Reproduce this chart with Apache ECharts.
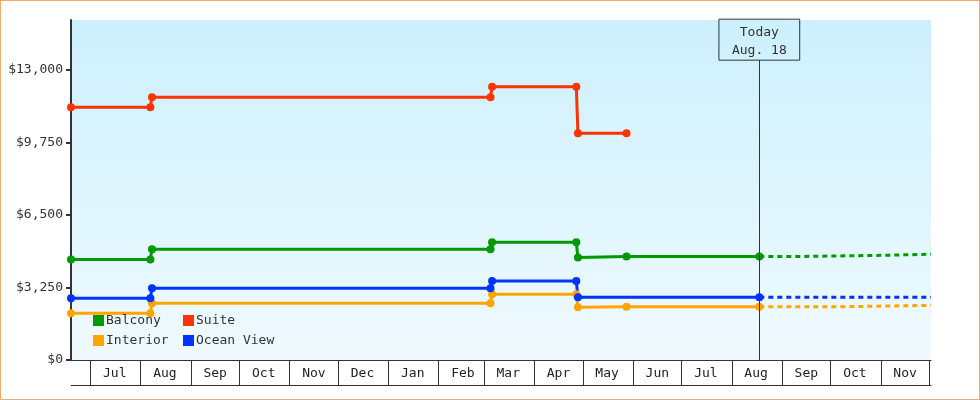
<!DOCTYPE html>
<html>
<head>
<meta charset="utf-8">
<script src="https://cdn.jsdelivr.net/npm/echarts@6/dist/echarts.min.js"></script>
<style>
  html, body { margin: 0; padding: 0; background: #fff; }
  #chart { position: absolute; left: 0; top: 0; width: 980px; height: 400px; }
  #frame {
    position: absolute; left: 0; top: 0; width: 980px; height: 400px;
    box-sizing: border-box; pointer-events: none;
    border: 1px solid; border-color: #eeaa5e #dcb287 #dcb287 #eeaa5e;
  }
</style>
</head>
<body>
<div id="chart"></div>
<div id="frame"></div>
<script>
var startDay = '2016-06-19';
var endDay = '2017-12-02';
var today = '2017-08-18';
var months = ['Jan', 'Feb', 'Mar', 'Apr', 'May', 'Jun', 'Jul', 'Aug', 'Sep', 'Oct', 'Nov', 'Dec'];
var yTicks = [0, 3250, 6500, 9750, 13000];
var yMax = 15240;

// prix observés
var balcony = [
  ['2016-06-19', 4510], ['2016-08-07', 4510], ['2016-08-08', 4960],
  ['2017-03-05', 4960], ['2017-03-06', 5280], ['2017-04-27', 5280],
  ['2017-04-28', 4590], ['2017-05-28', 4640], ['2017-08-18', 4640]
];
var suite = [
  ['2016-06-19', 11330], ['2016-08-07', 11330], ['2016-08-08', 11780],
  ['2017-03-05', 11780], ['2017-03-06', 12250], ['2017-04-27', 12250],
  ['2017-04-28', 10160], ['2017-05-28', 10160]
];
var interior = [
  ['2016-06-19', 2090], ['2016-08-07', 2090], ['2016-08-08', 2540],
  ['2017-03-05', 2540], ['2017-03-06', 2945], ['2017-04-27', 2945],
  ['2017-04-28', 2360], ['2017-05-28', 2390], ['2017-08-18', 2390]
];
var oceanView = [
  ['2016-06-19', 2770], ['2016-08-07', 2770], ['2016-08-08', 3215],
  ['2017-03-05', 3215], ['2017-03-06', 3540], ['2017-04-27', 3540],
  ['2017-04-28', 2810], ['2017-08-18', 2810]
];
// prévisions (pointillés)
var balconyForecast = [
  ['2017-08-18', 4640], ['2017-09-12', 4640], ['2017-09-13', 4695],
  ['2017-11-06', 4695], ['2017-11-07', 4745], ['2017-12-02', 4745]
];
var interiorForecast = [
  ['2017-08-18', 2390], ['2017-10-10', 2390], ['2017-10-11', 2450], ['2017-12-02', 2450]
];
var oceanViewForecast = [['2017-08-18', 2810], ['2017-12-02', 2810]];

var colors = { Balcony: '#009900', Suite: '#ff3300', Interior: '#ffa500', 'Ocean View': '#0033ff' };
var mono = 'DejaVu Sans Mono';

// une catégorie par jour
function dayList(a, b) {
  var out = [];
  var t = Date.parse(a + 'T00:00:00Z');
  var end = Date.parse(b + 'T00:00:00Z');
  for (; t <= end; t += 86400000) out.push(new Date(t).toISOString().slice(0, 10));
  return out;
}
var days = dayList(startDay, endDay);

function solid(name, data) {
  return {
    name: name, type: 'line', data: data, xAxisIndex: 0,
    symbol: 'circle', symbolSize: 8, showSymbol: true, showAllSymbol: true,
    lineStyle: { width: 3, color: colors[name] },
    itemStyle: { color: colors[name] }
  };
}
function dashed(name, data) {
  return {
    name: name, type: 'line', data: data, xAxisIndex: 0,
    showSymbol: false, symbol: 'none',
    lineStyle: { width: 3, color: colors[name], type: [5, 4] },
    itemStyle: { color: colors[name] }
  };
}

var ocean = solid('Ocean View', oceanView);
ocean.markLine = {
  silent: true, symbol: 'none', animation: false,
  lineStyle: { color: '#333', width: 1, type: 'solid' },
  label: {
    show: true, position: 'end', distance: 0,
    formatter: 'Today\nAug. 18',
    color: '#333', fontFamily: mono, fontSize: 13, lineHeight: 18,
    borderColor: '#333', borderWidth: 1, padding: [4, 13, 1, 13]
  },
  data: [[{ coord: [today, 0] }, { coord: [today, 13440] }]]
};

var legendBase = {
  orient: 'vertical', top: 314, padding: 0, icon: 'rect',
  itemWidth: 11, itemHeight: 11, itemGap: 7,
  textStyle: { fontFamily: mono, fontSize: 13, color: '#333', lineHeight: 11, padding: [0, 0, 0, -3] }
};

var chart = echarts.init(document.getElementById('chart'));
chart.setOption({
  animation: false,
  grid: {
    left: 71, right: 49, top: 20, bottom: 40, show: true, borderWidth: 0,
    backgroundColor: new echarts.graphic.LinearGradient(0, 0, 0, 1, [
      { offset: 0, color: '#ccf0fd' }, { offset: 1, color: '#f0faff' }
    ])
  },
  legend: [
    Object.assign({}, legendBase, { left: 93, data: ['Balcony', 'Interior'] }),
    Object.assign({}, legendBase, { left: 183, data: ['Suite', 'Ocean View'] })
  ],
  xAxis: [{
    type: 'category', data: days, boundaryGap: false,
    axisLine: { lineStyle: { color: '#333', width: 1 } },
    axisTick: {
      length: 25, lineStyle: { color: '#333', width: 1 },
      interval: function (i, v) { return v.slice(8) === '01'; }
    },
    axisLabel: {
      interval: function (i, v) { return v.slice(8) === '16'; },
      formatter: function (v) { return months[+v.slice(5, 7) - 1]; },
      color: '#222', fontFamily: mono, fontSize: 13, margin: 7
    },
    splitLine: { show: false }
  }, {
    type: 'category', data: days, boundaryGap: false, position: 'bottom', offset: 25,
    axisLine: { lineStyle: { color: '#333', width: 1 } },
    axisTick: { show: false }, axisLabel: { show: false }, splitLine: { show: false }
  }],
  yAxis: {
    type: 'value', min: 0, max: yMax,
    axisLine: { show: true, lineStyle: { color: '#333', width: 2 } },
    axisTick: { show: true, length: 5, customValues: yTicks, lineStyle: { color: '#333', width: 2 } },
    axisLabel: {
      customValues: yTicks, margin: 8, color: '#333', fontFamily: mono, fontSize: 13,
      formatter: function (v) { return '$' + v.toLocaleString('en-US'); }
    },
    splitLine: { show: false }
  },
  series: [
    solid('Balcony', balcony),
    solid('Suite', suite),
    solid('Interior', interior),
    ocean,
    dashed('Balcony', balconyForecast),
    dashed('Interior', interiorForecast),
    dashed('Ocean View', oceanViewForecast)
  ]
});
</script>
</body>
</html>
